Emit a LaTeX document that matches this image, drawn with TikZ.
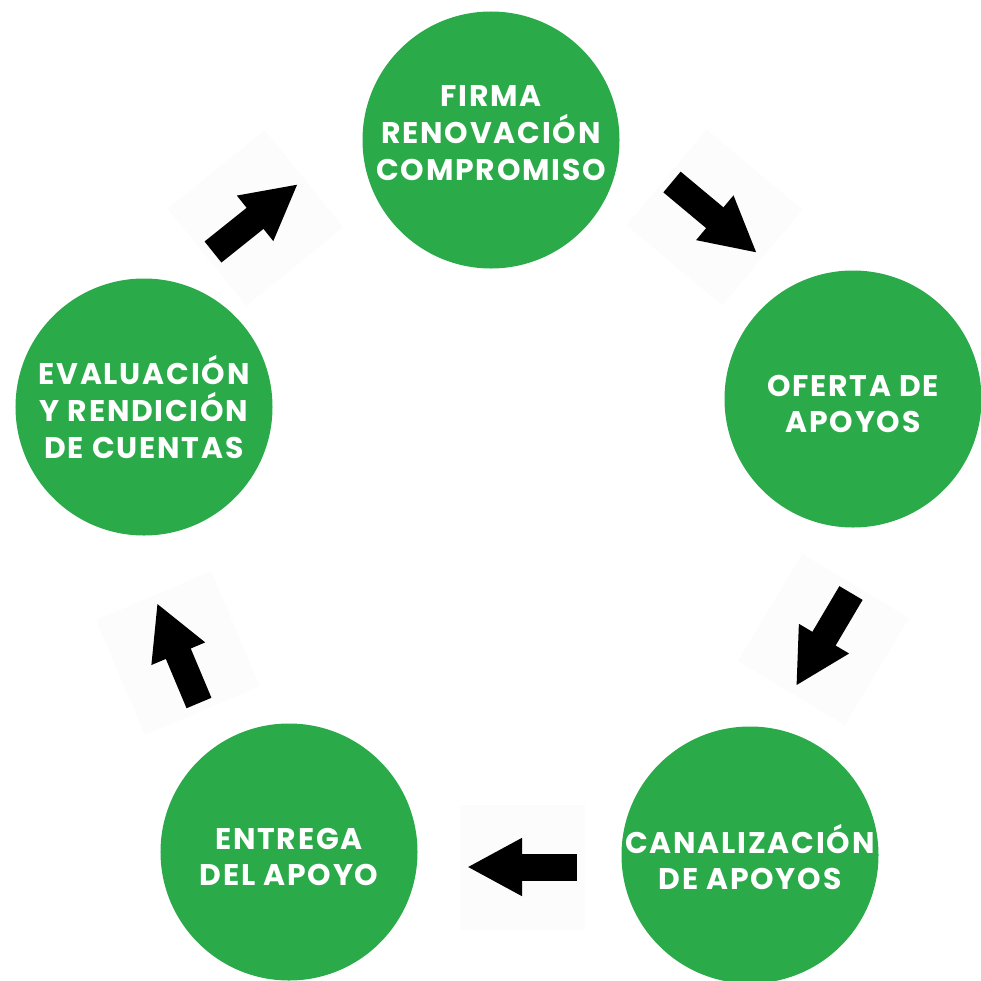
\documentclass[tikz,border=0pt]{standalone}
\usepackage{fontspec}
\setmainfont{Poppins}[LetterSpace=6]
\usetikzlibrary{arrows.meta,calc}
\definecolor{verde}{RGB}{43,170,74}
\begin{document}
\begin{tikzpicture}[x=0.2mm,y=-0.2mm,
  paso/.style={circle,fill=verde,minimum size=51.4mm,inner sep=0pt},
  rotulo/.style={text=white,align=center,inner sep=0pt,
    font=\bfseries\fontsize{17}{21}\selectfont},
  flecha/.style={line width=5.4mm,-{Triangle[length=11mm,width=10.8mm]}},
  fondo/.style={fill=black!1,minimum size=25mm,inner sep=0pt}]
\useasboundingbox (0,0) rectangle (981,981);
% pasos del ciclo
\node[paso] (firma) at (491,140) {};
\node[paso] (oferta) at (853,399) {};
\node[paso] (canal) at (750,855) {};
\node[paso] (entrega) at (289,852) {};
\node[paso] (evalua) at (144,407) {};
\node[rotulo] (firmat) at ($(firma)+(0,-7)$) {FIRMA\\RENOVACIÓN\\COMPROMISO};
\node[rotulo] (ofertat) at ($(oferta)+(0,5)$) {OFERTA DE\\APOYOS};
\node[rotulo] (canalt) at ($(canal)+(0,2)$) {CANALIZACIÓN\\DE APOYOS};
\node[rotulo] (entregat) at ($(entrega)+(0,5)$) {ENTREGA\\DEL APOYO};
\node[rotulo] (evaluat) at (evalua) {EVALUACIÓN\\Y RENDICIÓN\\DE CUENTAS};
% extremos de las flechas
\coordinate (f1a) at (213,252);\coordinate (f1b) at (298,184);
\coordinate (f2a) at (672,182);\coordinate (f2b) at (757,253);
\coordinate (f3a) at (851,593);\coordinate (f3b) at (796,686);
\coordinate (f4a) at (577,867);\coordinate (f4b) at (467,867);
\coordinate (f5a) at (199,703);\coordinate (f5b) at (157,603);
\node[fondo,rotate=39] at ($(f1a)!.5!(f1b)$) {};
\node[fondo,rotate=-40] at ($(f2a)!.5!(f2b)$) {};
\node[fondo,rotate=-121] at ($(f3a)!.5!(f3b)$) {};
\node[fondo] at ($(f4a)!.5!(f4b)$) {};
\node[fondo,rotate=113] at ($(f5a)!.5!(f5b)$) {};
\foreach \i in {1,...,5}
  \draw[flecha] (f\i a) -- (f\i b);
\end{tikzpicture}
\end{document}
